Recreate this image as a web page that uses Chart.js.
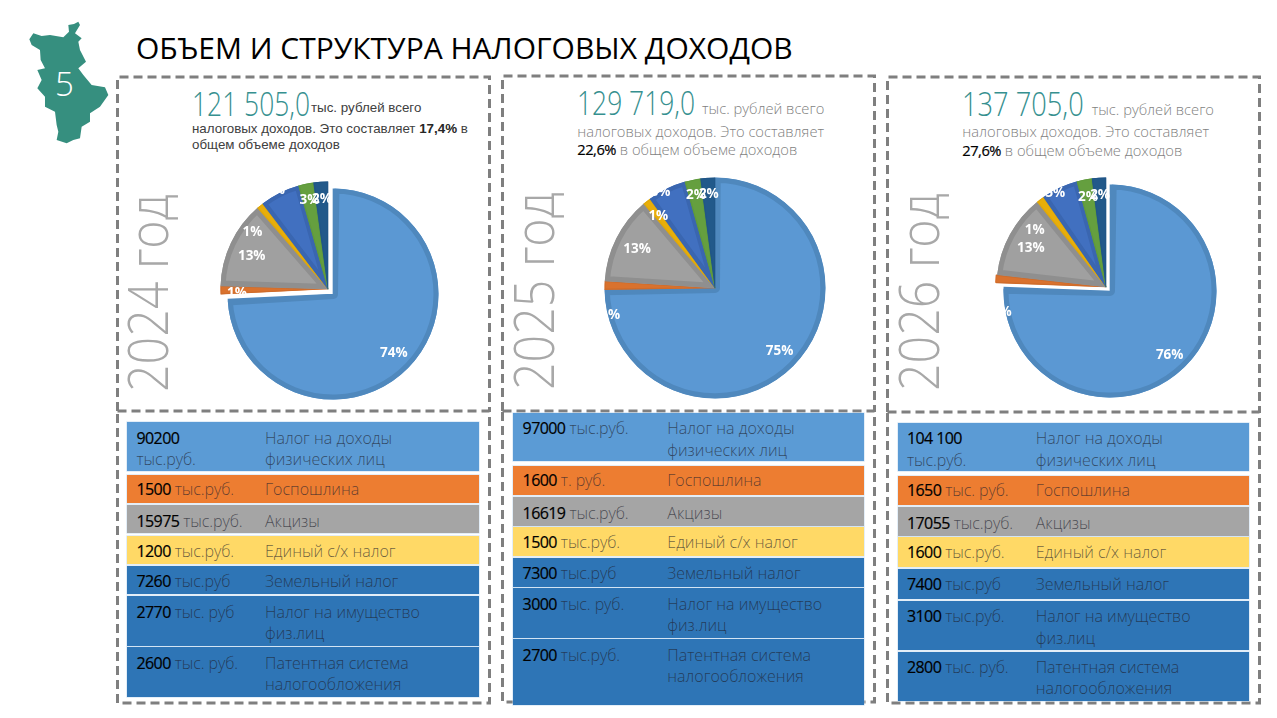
<!DOCTYPE html>
<html lang="ru"><head><meta charset="utf-8">
<script src="https://cdn.jsdelivr.net/npm/chart.js@4"></script>
<style>
html,body{margin:0;padding:0;background:#fff;overflow:hidden}
#stage{position:relative;width:1277px;height:718px;overflow:hidden;font-family:"Open Sans",sans-serif}
.t{position:absolute;white-space:nowrap;line-height:1;transform:translateY(-50%)}
canvas{position:absolute}
.row{position:absolute}
</style></head><body><div id="stage"></div>
<script>
const titleText = "ОБЪЕМ И СТРУКТУРА НАЛОГОВЫХ ДОХОДОВ";
const years = ["2024 год","2025 год","2026 год"];
const categories = ["Налог на доходы\nфизических лиц","Госпошлина","Акцизы","Единый с/х налог","Земельный налог","Налог на имущество\nфиз.лиц","Патентная система\nналогообложения"];
const values2024 = [90200,1500,15975,1200,7260,2770,2600];
const values2025 = [97000,1600,16619,1500,7300,3000,2700];
const values2026 = [104100,1650,17055,1600,7400,3100,2800];
const units2024 = ["\nтыс.руб."," тыс.руб."," тыс.руб."," тыс.руб."," тыс.руб"," тыс. руб"," тыс. руб."];
const units2025 = [" тыс.руб."," т. руб."," тыс.руб."," тыс.руб."," тыс.руб"," тыс. руб."," тыс.руб."];
const units2026 = ["\nтыс.руб."," тыс. руб."," тыс.руб."," тыс.руб."," тыс.руб"," тыс.руб."," тыс. руб."];
const percent2024 = ["74%","1%","13%","1%","6%","3%","2%"];
const percent2025 = ["75%","1%","13%","1%","6%","2%","2%"];
const percent2026 = ["76%","1%","13%","1%","5%","2%","2%"];
const totals = ["121 505,0","129 719,0","137 705,0"];
const shares = ["17,4%","22,6%","27,6%"];

const sliceColors = ["#5b98d3","#d9722e","#a0a0a0","#e8ae0a","#4170c0","#659f3f","#22598a"];
const sliceBorders = ["#4f88bd","#cf6c2b","#8f8f8f","#e0a808","#3a66b0","#5f9a3c","#205687"];
const sliceBorderWidths = [5,1,5,1,4,1,1];
const rowColors = ["#5b9bd5","#ed7d31","#a5a5a5","#ffd966","#2e75b6","#2e75b6","#2e75b6"];
const rowTextOffsets = [15.7,13.8,15.7,15,15.3,15.7,15.4];

const panels = [
 {values:values2024,units:units2024,pct:percent2024,
  box:[117.5,77,372,334],lower:[117.5,411,372,292],
  pie:{cx:328,cy:288.5,r:107.5,bigR:105.5,bigShift:[4.7,5.5],offsets:[0,0,0,0,0,0,0],spacing:.6,
       place:[[.8,0],[.847,-2],[.773,-2],[.877,-14],[1.04,-1.6],[.842,0],[.842,0]]},
  yearPos:[146,292.5],
  rowX:[127,479],rows:[[422.3,471],[475.3,503],[505,533.3],[535.7,564],[565.7,594.3],[596,645.7],[647.3,697]],
  valX:136.5,nameX:265,
  head:{x:192,numY:103,numScale:.8,tail:"тыс. рублей всего",tailX:311,tailY:108,l2Y:129,l3Y:145}},
 {values:values2025,units:units2025,pct:percent2025,
  box:[502.5,76,372,335],lower:[502.5,411,372,291],
  pie:{cx:715,cy:288.3,r:110.5,bigR:110.5,bigShift:[0,0],offsets:[0,0,0,0,0,0,0],spacing:.3,
       place:[[.82,0],[.98,-16],[.79,0],[.83,0],[1,-3.6],[.855,0],[.853,0]]},
  yearPos:[532,291],
  rowX:[513.3,864.3],rows:[[412.7,461.3],[465.7,495.3],[497,525.7],[527.3,556.3],[557.7,586.7],[588,637.7],[639.3,705]],
  valX:522.6,nameX:667.3,
  head:{x:577.3,numY:102,numScale:.8,tail:"тыс. рублей всего",tailX:702,tailY:107.7,l2Y:130.7,l3Y:149.3}},
 {values:values2026,units:units2026,pct:percent2026,
  box:[887.5,77,372,335],lower:[887.5,412,372,291],
  pie:{cx:1106,cy:286.7,r:109.5,bigR:106.5,bigShift:[4.2,4.3],offsets:[0,3,0,0,0,0,0],spacing:.7,
       place:[[.82,1],[.98,-17.7],[.77,-1.7],[.835,-14.4],[.97,-3.4],[.835,0],[.845,0]]},
  yearPos:[917,292],
  rowX:[898.3,1249],rows:[[422.7,471.3],[475.7,505.3],[507,535.7],[537.3,567],[568.7,599],[600.7,650],[651.7,701.3]],
  valX:907,nameX:1035.7,
  head:{x:962.3,numY:103,numScale:.825,tail:"тыс. рублей всего",tailX:1091.7,tailY:108.7,l2Y:131,l3Y:150}}
];

const stage = document.getElementById("stage");
function text(parent,str,x,y,css){
  const d=document.createElement("div");d.className="t";d.textContent=str;
  d.style.left=x+"px";d.style.top=y+"px";Object.assign(d.style,css||{});parent.appendChild(d);return d;
}
const mapPts="235,65 222,72 205,75 207,95 190,112 150,105 125,108 100,100 88,118 95,135 120,150 122,180 135,205 112,210 125,240 112,265 135,290 135,320 165,335 170,375 175,395 170,420 200,430 220,420 240,415 245,380 270,365 270,340 300,320 325,285 315,262 275,255 250,225 235,205 258,185 240,150 235,125 245,115 225,100 240,75";
let svg='<svg width="1277" height="718" viewBox="0 0 1277 718" style="position:absolute;left:0;top:0">';
svg+='<polygon points="'+mapPts+'" transform="scale(0.3333)" fill="#368f7f"/>';
const dash='fill="none" stroke="#7f7f7f" stroke-width="3" stroke-dasharray="9 5"';
panels.forEach(p=>{
  const b=p.box,l=p.lower;
  svg+='<path d="M'+b[0]+' '+(b[1]+b[3])+'V'+b[1]+'H'+(b[0]+b[2])+'V'+(b[1]+b[3])+'" '+dash+'/>';
  svg+='<rect x="'+l[0]+'" y="'+l[1]+'" width="'+l[2]+'" height="'+l[3]+'" '+dash+'/>';
});
svg+='</svg>';
stage.insertAdjacentHTML("beforeend",svg);
text(stage,"5",55,83,{fontSize:"33px",fontWeight:300,color:"#fff"});
text(stage,titleText,136,48,{fontSize:"30px",fontWeight:400,color:"#000"});

const labelPlugin={id:"sliceLabels",afterDatasetsDraw(chart){
  const cfg=chart.config.options.plugins.sliceLabels;
  if(!cfg||!cfg.text) return;
  const ctx=chart.ctx,arcs=chart.getDatasetMeta(0).data;
  ctx.save();ctx.font='700 13.5px "Open Sans"';ctx.fillStyle="#fff";ctx.textAlign="center";ctx.textBaseline="middle";
  arcs.forEach((a,i)=>{
    const mid=(a.startAngle+a.endAngle)/2;
    const ang=mid+cfg.place[i][1]*Math.PI/180;
    const rad=(i===0?cfg.bigR:a.outerRadius)*cfg.place[i][0];
    const sx=i===0?cfg.bigShift[0]:0,sy=i===0?cfg.bigShift[1]:0;
    ctx.fillText(cfg.text[i],a.x+sx+Math.cos(ang)*rad,a.y+sy+Math.sin(ang)*rad);
  });ctx.restore();
}};

function pieCanvas(cx,cy){
  const S=290,c=document.createElement("canvas");c.width=S;c.height=S;
  c.style.left=(cx-S/2)+"px";c.style.top=(cy-S/2)+"px";c.style.width=S+"px";c.style.height=S+"px";
  stage.appendChild(c);return c;
}
function onlyBig(arr,off){return arr.map((v,i)=>i===0?v:off);}
function exceptBig(arr,off){return arr.map((v,i)=>i===0?off:v);}
function pie(canvas,p,radius,colors,borders,widths,offsets,labelCfg){
  return new Chart(canvas,{type:"pie",plugins:[labelPlugin],
    data:{labels:categories.map(s=>s.replace("\n"," ")),datasets:[{data:p.values,backgroundColor:colors,borderColor:borders,borderWidth:widths,borderAlign:"inner",offset:offsets,spacing:p.pie.spacing}]},
    options:{responsive:false,animation:false,radius:radius,layout:{padding:0},
      plugins:{legend:{display:false},tooltip:{enabled:false},sliceLabels:labelCfg}}});
}

panels.forEach((p,pi)=>{
  const h=p.head,isFirst=pi===0;
  const col=isFirst?"#404040":"#7f7f7f";
  const base=isFirst?{fontFamily:'"Liberation Sans"',fontSize:"13.35px",color:col}:{fontSize:"14.7px",fontWeight:300,color:col};
  const strong=isFirst?"font-weight:700;color:#262626":"font-weight:400;color:#000;letter-spacing:-.5px;-webkit-text-stroke:.2px #000";
  const num=text(stage,totals[pi],h.x,h.numY,{fontSize:"33px",fontWeight:300,color:"#36908f"});
  num.style.transformOrigin="left center";num.style.transform="translateY(-50%) scaleX("+h.numScale+")";
  text(stage,h.tail,h.tailX,h.tailY,base);
  const l2=text(stage,"",h.x,h.l2Y,base),l3=text(stage,"",h.x,h.l3Y,base);
  if(isFirst){
    l2.innerHTML='налоговых доходов. Это составляет <span style="'+strong+'">'+shares[pi]+'</span> в';
    l3.textContent="общем объеме доходов";
  }else{
    l2.textContent="налоговых доходов. Это составляет";
    l3.innerHTML='<span style="'+strong+'">'+shares[pi]+'</span> в общем объеме доходов';
  }
  const y=text(stage,years[pi],p.yearPos[0],p.yearPos[1],{fontSize:"56px",fontWeight:300,color:"#a8a8a8"});
  y.style.transform="translate(-50%,-50%) rotate(-90deg) scaleX(.863)";
  p.rows.forEach((r,i)=>{
    const d=document.createElement("div");d.className="row";
    Object.assign(d.style,{left:p.rowX[0]+"px",top:r[0]+"px",width:(p.rowX[1]-p.rowX[0])+"px",height:(r[1]-r[0])+"px",background:rowColors[i],boxShadow:"0 0 0 .6px rgba(190,215,240,.7)"});
    stage.appendChild(d);
    const muted="rgba(30,30,45,.68)";
    const v=p.values[i],vs=v>=100000?String(v).replace(/(\d{3})(\d{3})$/,"$1 $2"):String(v);
    const parts=p.units[i].split("\n");
    const ly=r[0]+rowTextOffsets[i];
    const vEl=text(stage,"",p.valX,ly,{fontSize:"16px",fontWeight:300,color:muted,letterSpacing:"-.1px"});
    vEl.innerHTML='<span style="font-weight:400;color:#000;letter-spacing:-.6px;-webkit-text-stroke:.2px #000">'+vs+'</span>'+parts[0];
    if(parts[1]) text(stage,parts[1],p.valX,ly+21.3,{fontSize:"16px",fontWeight:300,color:muted,letterSpacing:"-.1px"});
    categories[i].split("\n").forEach((ln,k)=>text(stage,ln,p.nameX,ly+k*21.3,{fontSize:"16px",fontWeight:300,color:muted}));
  });
  const pp=p.pie;
  pie(pieCanvas(pp.cx+pp.bigShift[0],pp.cy+pp.bigShift[1]),p,pp.bigR,
      onlyBig(sliceColors,"rgba(0,0,0,0)"),onlyBig(sliceBorders,"rgba(0,0,0,0)"),onlyBig(sliceBorderWidths,0),[0,0,0,0,0,0,0],null);
  pie(pieCanvas(pp.cx,pp.cy),p,pp.r,
      exceptBig(sliceColors,"rgba(0,0,0,0)"),exceptBig(sliceBorders,"rgba(0,0,0,0)"),exceptBig(sliceBorderWidths,0),pp.offsets,
      {place:pp.place,text:p.pct,bigR:pp.bigR,bigShift:pp.bigShift});
});
</script></body></html>
